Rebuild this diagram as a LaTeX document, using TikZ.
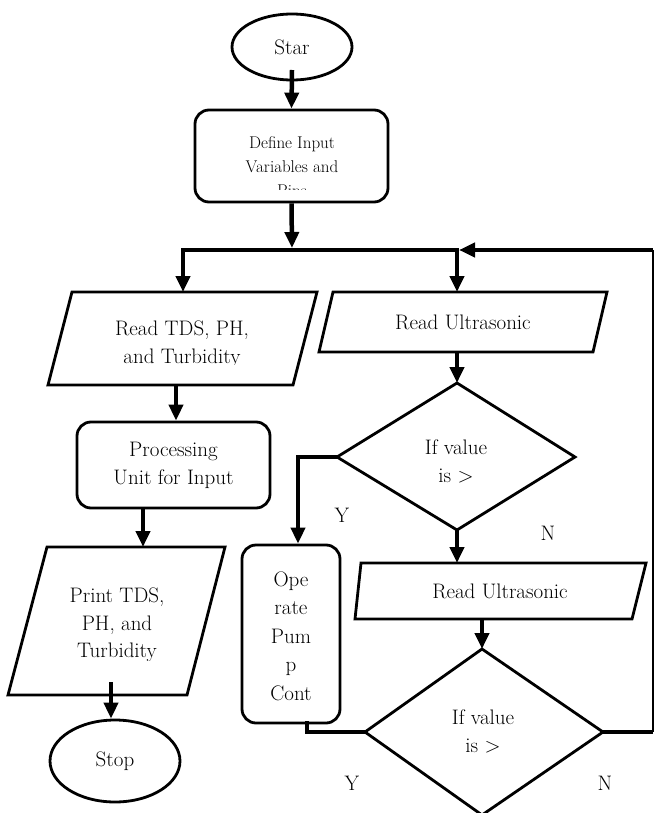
\documentclass[tikz,border=0pt]{standalone}
\usetikzlibrary{shapes.geometric,arrows.meta}
\begin{document}
\begin{tikzpicture}[x=1pt,y=-1pt,
  shp/.style={draw=black,line width=2.8pt},
  flow/.style={line width=4.5pt,-{Triangle[length=16pt,width=14pt]}},
  thk/.style={line width=4.5pt},
  txt/.style={font=\fontsize{21}{28}\selectfont,align=center,inner sep=0pt},
  stxt/.style={font=\fontsize{17}{24}\selectfont,align=center,inner sep=0pt},
  lbl/.style={font=\fontsize{21}{24}\selectfont,inner sep=0pt}]
\useasboundingbox (0,0) rectangle (655,813);

% Start
\node[shp,ellipse,minimum width=120pt,minimum height=66pt,inner sep=0pt,txt] (start) at (292,47) {Star};

% Define box
\node[shp,rectangle,rounded corners=14pt,minimum width=193pt,minimum height=92pt] (define) at (291.5,156) {};
\begin{scope}
\clip (200,112) rectangle (385,189);
\node[stxt,anchor=north] (definetxt) at (292,136) {Define Input\\Variables and\\Pins};
\end{scope}

% split coordinates
\coordinate (split) at (292,250);
\coordinate (jl) at (183,250);
\coordinate (jr) at (457,250);

% Read TDS parallelogram
\draw[shp,line join=miter] (72,292) -- (317,292) -- (293,385) -- (48,385) -- cycle;
\coordinate (rtdsT) at (183,292);
\coordinate (rtdsB) at (176,385);
\begin{scope}
\clip (60,296) rectangle (300,364);
\node[txt,anchor=north] (rtds) at (182,321) {Read TDS, PH,\\and Turbidity};
\end{scope}

% Processing unit
\node[shp,rectangle,rounded corners=14pt,minimum width=193pt,minimum height=86pt,txt] (proc) at (173.5,465) {Processing\\Unit for Input};

% Print parallelogram
\draw[shp,line join=miter] (47,547) -- (225,547) -- (187,695) -- (8,695) -- cycle;
\coordinate (printT) at (143,547);
\coordinate (printB) at (111,682);
\begin{scope}
\clip (20,552) rectangle (215,660);
\node[txt,font=\fontsize{21}{27.5}\selectfont,anchor=north] (print) at (117,588) {Print TDS,\\PH, and\\Turbidity};
\end{scope}

% Stop
\node[shp,ellipse,minimum width=130pt,minimum height=82pt,inner sep=0pt,txt] (stop) at (115,761) {Stop};

% Read Ultrasonic 1
\draw[shp,line join=miter] (333,292) -- (607,292) -- (593,352) -- (319,352) -- cycle;
\coordinate (ru1T) at (457,292);
\coordinate (ru1B) at (457,352);
\node[txt] (ru1) at (463,322) {Read Ultrasonic};

% Diamond 1
\draw[shp,line join=miter] (457,383) -- (575,457) -- (457,530) -- (337,457) -- cycle;
\coordinate (d1T) at (457,383);
\coordinate (d1L) at (337,457);
\coordinate (d1B) at (457,530);
\node[txt] (d1) at (456,461) {If value\\is >};

% Operate box
\node[shp,rectangle,rounded corners=14pt,minimum width=98pt,minimum height=178pt,inner sep=0pt] (op) at (291,634) {};
\node[txt,font=\fontsize{21}{28.5}\selectfont] (optxt) at (291,636) {Ope\\rate\\Pum\\p\\Cont};

% Read Ultrasonic 2
\draw[shp,line join=miter] (361,563) -- (646,563) -- (632,619) -- (355,619) -- cycle;
\coordinate (ru2T) at (457,563);
\coordinate (ru2B) at (482,619);
\node[txt] (ru2) at (500,591) {Read Ultrasonic};

% Diamond 2
\draw[shp,line join=miter] (482,649) -- (603,732) -- (482,815) -- (365,732) -- cycle;
\coordinate (d2T) at (482,649);
\coordinate (d2L) at (365,732);
\coordinate (d2R) at (603,732);
\node[txt] (d2) at (483,731) {If value\\is >};

% connectors
\draw[flow] (292,70) -- (define.north);
\draw[flow] (define.south) -- ([yshift=2pt]split);
\draw[thk,line cap=rect] (jl) -- (jr);
\draw[flow] (jl) -- (rtdsT);
\draw[flow] (jr) -- (ru1T);
\draw[flow] (rtdsB) -- (proc.north -| rtdsB);
\draw[flow] (proc.south -| printT) -- (printT);
\draw[flow] (printB) -- (stop.north -| printB);
\draw[flow] (ru1B) -- (d1T);
\draw[flow] (d1L) -- (298,457) -- (op.north -| 298,0);
\draw[flow] (d1B) -- (ru2T);
\draw[flow] (ru2B) -- (d2T);
\draw[thk] (307,721) -- (307,732) -- (d2L);
\coordinate (rc) at (653,732);
\coordinate (tc) at (653,250);
\draw[thk] (d2R) -- (rc);
\draw[line width=2.2pt] (rc) -- (tc);
\draw[flow] (tc) -- (459,250);

% labels
\node[lbl] (y1) at (342,515) {Y};
\node[lbl] (n1) at (548,533) {N};
\node[lbl] (y2) at (352,783) {Y};
\node[lbl] (n2) at (605,783) {N};
\end{tikzpicture}
\end{document}
